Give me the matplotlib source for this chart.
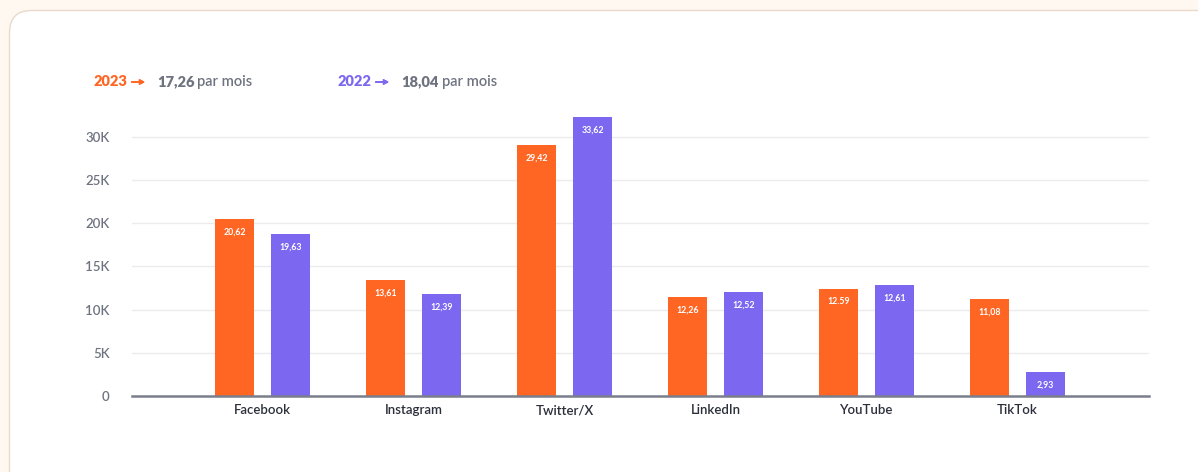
import numpy as np
import matplotlib.pyplot as plt
from matplotlib.patches import FancyBboxPatch

plt.rcParams['font.family'] = ['Lato', 'DejaVu Sans']

# data (bar heights in K, printed labels as shown)
platforms = ['Facebook', 'Instagram', 'Twitter/X', 'LinkedIn', 'YouTube', 'TikTok']
h2023 = [20.48, 13.40, 29.07, 11.50, 12.42, 11.19]
h2022 = [18.81, 11.84, 32.32, 12.00, 12.85, 2.71]
lab2023 = ['20,62', '13,61', '29,42', '12,26', '12.59', '11,08']
lab2022 = ['19,63', '12,39', '33,62', '12,52', '12,61', '2,93']
yticks = [0, 5, 10, 15, 20, 25, 30]
ytick_labels = ['0', '5K', '10K', '15K', '20K', '25K', '30K']

orange = '#ff6624'
purple = '#7b67f0'
grey = '#6e7380'

W, H = 1198, 472
fig = plt.figure(figsize=(W / 100, H / 100), dpi=100)
fig.patch.set_facecolor('#fff8f0')

# white card behind everything, drawn in pixel coords
bg = fig.add_axes([0, 0, 1, 1], zorder=-10)
bg.set_xlim(0, W)
bg.set_ylim(H, 0)
bg.axis('off')
bg.add_patch(FancyBboxPatch((9.5, 10.5), W + 50, H + 50,
                            boxstyle='round,pad=0,rounding_size=22',
                            facecolor='white', edgecolor='#ead9cc', linewidth=1))

ax = fig.add_axes([132 / W, (H - 395.7) / H, (1149 - 132) / W, (395.7 - 107) / H])
ax.set_facecolor('none')

x = np.arange(len(platforms))
off = 0.186
bw = 0.258
b1 = ax.bar(x - off, h2023, bw, color=orange, zorder=3)
b2 = ax.bar(x + off, h2022, bw, color=purple, zorder=3)

for bars, labs in ((b1, lab2023), (b2, lab2022)):
    for b, t in zip(bars, labs):
        ax.annotate(t, (b.get_x() + b.get_width() / 2, b.get_height()),
                    xytext=(0, -9.5), textcoords='offset points',
                    ha='center', va='center', color='white',
                    fontsize=6.3, fontweight='bold', zorder=4)

ax.set_xlim(-0.864, 5.871)
ax.set_ylim(0, 33.5)
ax.set_yticks(yticks)
ax.set_yticklabels(ytick_labels, color=grey, fontsize=9.5, fontweight='semibold')
ax.set_xticks(x)
ax.set_xticklabels(platforms, color='#2b2f3a', fontsize=9.5, fontweight='semibold')
ax.tick_params(axis='both', length=0)
ax.tick_params(axis='y', pad=16)
ax.tick_params(axis='x', pad=6)
ax.grid(axis='y', color='#ececec', linewidth=1, zorder=0)
for s in ['top', 'right', 'left']:
    ax.spines[s].set_visible(False)
ax.spines['bottom'].set_color('#7a7f8c')
ax.spines['bottom'].set_linewidth(1.8)
ax.spines['bottom'].set_zorder(5)

# header legend
yy = (H - 82) / H
fig.text(93 / W, yy, '2023', color=orange, fontsize=10.5, fontweight='heavy', va='center')
fig.text(157 / W, yy, '17,26', color=grey, fontsize=10.5, fontweight='heavy', va='center')
fig.text(197 / W, yy, 'par mois', color=grey, fontsize=10.5, fontweight='semibold', va='center')
fig.text(338 / W, yy, '2022', color=purple, fontsize=10.5, fontweight='heavy', va='center')
fig.text(401 / W, yy, '18,04', color=grey, fontsize=10.5, fontweight='heavy', va='center')
fig.text(442 / W, yy, 'par mois', color=grey, fontsize=10.5, fontweight='semibold', va='center')
for x0, c in ((129, orange), (373, purple)):
    fig.add_artist(plt.annotate('', xy=((x0 + 19) / W, yy), xytext=(x0 / W, yy),
                                xycoords='figure fraction',
                                arrowprops=dict(arrowstyle='->', color=c, lw=1.2,
                                                mutation_scale=7)))

fig.savefig('out.png', dpi=100, facecolor=fig.get_facecolor())
